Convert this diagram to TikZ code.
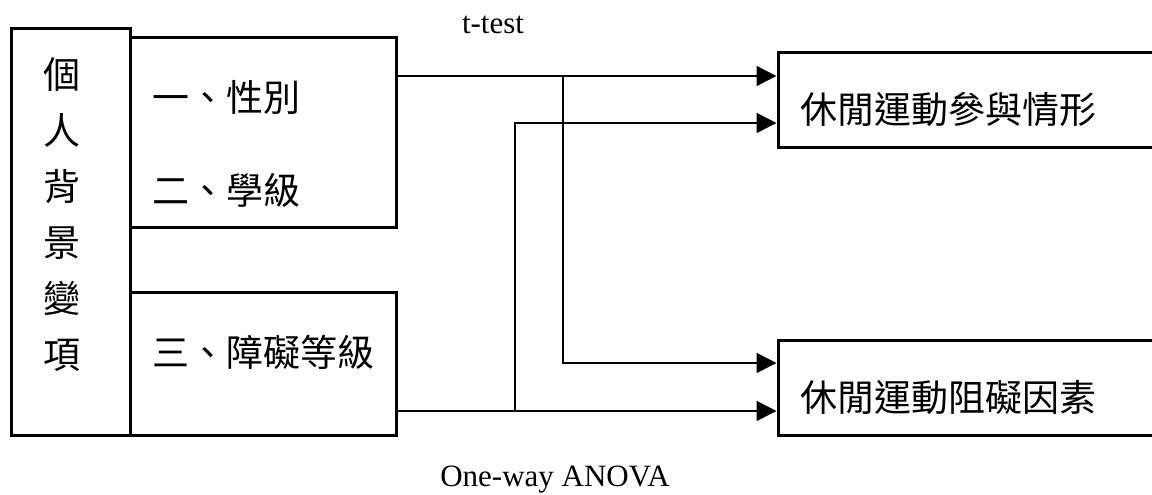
\documentclass[tikz,border=0pt]{standalone}
\usepackage{fontspec}
\setmainfont{Liberation Serif}
\newfontfamily\cjk{Noto Sans CJK TC}
\usetikzlibrary{arrows.meta}
\tikzset{
  box/.style={draw, line width=1.5pt, inner sep=0pt},
  con/.style={line width=0.75pt},
  arr/.style={con, -{Triangle[length=10pt,width=10pt]}},
  zh/.style={font=\cjk\fontsize{18.5pt}{28pt}\selectfont, inner sep=0pt},
  en/.style={font=\fontsize{15.5pt}{18pt}\selectfont, inner sep=0pt},
}

\begin{document}
\begin{tikzpicture}[x=0.5pt,y=-0.5pt]
\useasboundingbox (0,0) rectangle (1152,494);
  % boxes
  \draw (70.5,231.5) node[box,minimum width=59.5pt,minimum height=203.5pt] (bg) {};
  \draw (263,132) node[box,minimum width=133pt,minimum height=95pt] (box2) {};
  \draw (263,363.5) node[box,minimum width=133pt,minimum height=71.5pt] (box3) {};
  \draw (969,99.5) node[box,minimum width=191pt,minimum height=47.5pt] (top) {};
  \draw (969,387.5) node[box,minimum width=191pt,minimum height=47.5pt] (bot) {};

  % texts
  \draw (62,215) node[zh,align=center] (bgtxt) {個\\人\\背\\景\\變\\項};
  \draw (152,97) node[zh,anchor=west] (sex) {一、性別};
  \draw (152,190) node[zh,anchor=west] (grade) {二、學級};
  \draw (152,352) node[zh,anchor=west] (level) {三、障礙等級};
  \draw (800,110) node[zh,anchor=west] (part) {休閒運動參與情形};
  \draw (800,398) node[zh,anchor=west] (barr) {休閒運動阻礙因素};
  \draw (493,25) node[en] (ttest) {t-test};
  \draw (555,480) node[en] (anova) {One-way ANOVA};

  % connectors
  \coordinate (j1) at (563,76);
  \coordinate (k1) at (563,363);
  \coordinate (j2) at (515,411);
  \coordinate (k2) at (515,123);
  \draw[arr] (box2.east |- j1) -- (j1 -| top.west);
  \draw[arr] (j1) -- (k1) -- (k1 -| bot.west);
  \draw[arr] (box3.east |- j2) -- (j2 -| bot.west);
  \draw[arr] (j2) -- (k2) -- (k2 -| top.west);
\end{tikzpicture}
\end{document}
